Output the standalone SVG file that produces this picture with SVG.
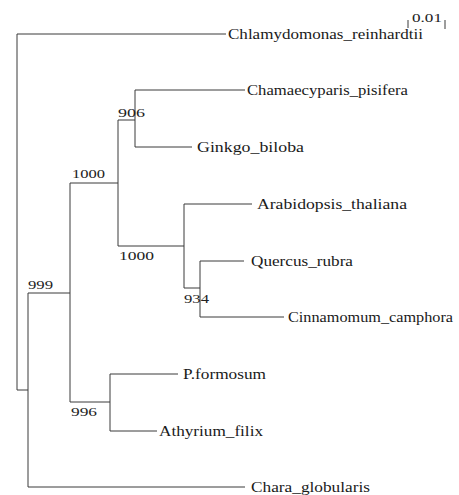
<svg xmlns="http://www.w3.org/2000/svg" width="459" height="495" viewBox="0 0 459 495">
<style>
.br{fill:none;stroke:#3a3a3a;stroke-width:1}
.lab{font-family:"Liberation Serif","Times New Roman",serif;font-size:15px;fill:#1a1a1a}
.bs{font-family:"Liberation Serif","Times New Roman",serif;font-size:13.5px;fill:#222}
</style>
<rect width="459" height="495" fill="#fff"/>
<g id="connectors">
<path class="br" d="M226,34H17V390H28"/>
<path class="br" d="M70,293H28V487H245"/>
<path class="br" d="M118,183H70V402H110"/>
<path class="br" d="M135,120H118V246H184"/>
<path class="br" d="M245,90H135V147H192"/>
<path class="br" d="M252,204H184V288H200"/>
<path class="br" d="M244,261H200V317H284"/>
<path class="br" d="M178,374H110V431H157"/>
<path class="br" d="M408,20V28M445,20V29"/>
</g>
<g id="scale"><text class="bs" x="412" y="22" textLength="30" lengthAdjust="spacingAndGlyphs">0.01</text></g>
<g id="n-chlamydomonas"><text class="lab" x="228" y="39" textLength="195" lengthAdjust="spacingAndGlyphs">Chlamydomonas_reinhardtii</text></g>
<g id="n-chamaecyparis"><text class="lab" x="247" y="95" textLength="161" lengthAdjust="spacingAndGlyphs">Chamaecyparis_pisifera</text></g>
<g id="n-ginkgo"><text class="lab" x="197" y="152" textLength="107" lengthAdjust="spacingAndGlyphs">Ginkgo_biloba</text></g>
<g id="n-arabidopsis"><text class="lab" x="257" y="209" textLength="150" lengthAdjust="spacingAndGlyphs">Arabidopsis_thaliana</text></g>
<g id="n-quercus"><text class="lab" x="251" y="266" textLength="102" lengthAdjust="spacingAndGlyphs">Quercus_rubra</text></g>
<g id="n-cinnamomum"><text class="lab" x="288" y="322" textLength="165" lengthAdjust="spacingAndGlyphs">Cinnamomum_camphora</text></g>
<g id="n-pformosum"><text class="lab" x="183" y="379" textLength="83" lengthAdjust="spacingAndGlyphs">P.formosum</text></g>
<g id="n-athyrium"><text class="lab" x="159" y="436" textLength="104" lengthAdjust="spacingAndGlyphs">Athyrium_filix</text></g>
<g id="n-chara"><text class="lab" x="251" y="492" textLength="119" lengthAdjust="spacingAndGlyphs">Chara_globularis</text></g>
<g id="b-906"><text class="bs" x="118" y="117" textLength="27" lengthAdjust="spacingAndGlyphs">906</text></g>
<g id="b-1000a"><text class="bs" x="72" y="178" textLength="33" lengthAdjust="spacingAndGlyphs">1000</text></g>
<g id="b-1000b"><text class="bs" x="119" y="260" textLength="35" lengthAdjust="spacingAndGlyphs">1000</text></g>
<g id="b-999"><text class="bs" x="28" y="289" textLength="25" lengthAdjust="spacingAndGlyphs">999</text></g>
<g id="b-934"><text class="bs" x="184" y="303" textLength="25" lengthAdjust="spacingAndGlyphs">934</text></g>
<g id="b-996"><text class="bs" x="71" y="416" textLength="26" lengthAdjust="spacingAndGlyphs">996</text></g>
</svg>
